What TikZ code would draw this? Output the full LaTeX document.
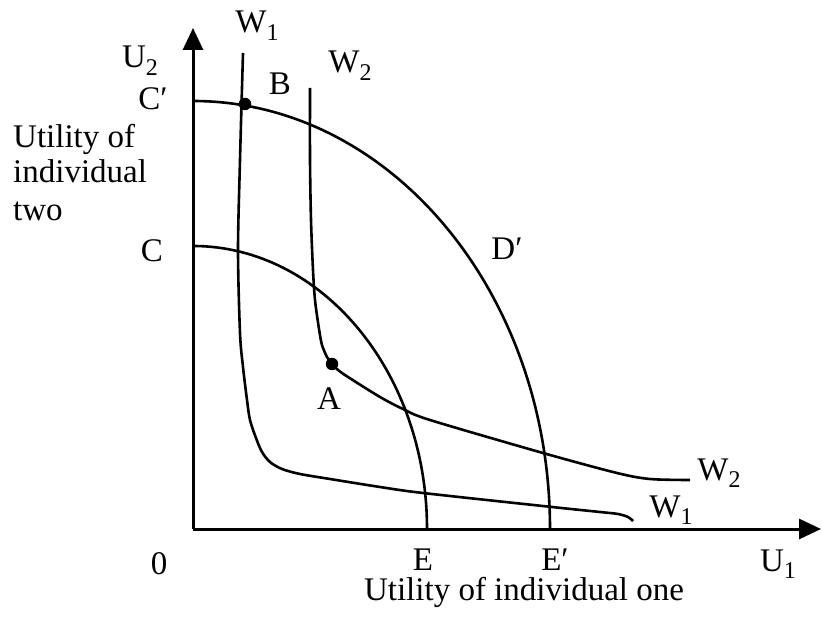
\documentclass[tikz,border=0pt]{standalone}
\usepackage{fontspec}
\setmainfont{Liberation Serif}
\usetikzlibrary{arrows.meta}
\newcommand{\lsub}[1]{\raisebox{-0.22em}{\fontsize{24}{24}\selectfont #1}}
\tikzset{
  curve/.style={line width=2.6pt, line join=round},
  axis/.style={line width=3pt, -{Triangle[length=22pt,width=20pt]}},
  lbl/.style={font=\fontsize{33}{36}\selectfont, inner sep=0pt, anchor=base},
  lbll/.style={lbl, anchor=base west},
  dot/.style={circle, fill=black, inner sep=0pt, minimum size=12.5pt}
}
\begin{document}
\begin{tikzpicture}[x=1pt,y=1pt]
\useasboundingbox (0,0) rectangle (822,619);
% axes
\coordinate (O) at (193,90);
\coordinate (Ytip) at (193,591);
\coordinate (Xtip) at (821,90);
\draw[axis] (O) -- (Ytip);
\draw[axis] (O) -- (Xtip);
% frontiers
\coordinate (Cp) at (193,518);
\coordinate (C) at (193,373);
\draw[curve] (Cp) arc[start angle=90, end angle=0, x radius=357, y radius=428];
\draw[curve] (C) arc[start angle=90, end angle=0, x radius=234, y radius=283];
% W1
\draw[curve] plot[smooth, tension=0.5] coordinates {(243,566) (240,459) (238,369) (240,286) (243,252) (247,219) (250,199) (256,181) (262,167) (270,157) (282,150) (300,145) (330,140) (380,132) (423,126) (552,112) (600,107) (618,105) (628,102) (633,98)};
% W2
\draw[curve] plot[smooth, tension=0.5] coordinates {(310,531) (310,459) (311,399) (313,349) (315,319) (319,290) (322,274) (327,262) (332,255) (338,249) (348,242) (380,222) (403,210) (430,199) (543,166) (617,146) (650,140) (690,139)};
% points
\node[dot] (B) at (245,515) {};
\node[dot] (A) at (332,255) {};
% labels
\node[lbl] (lW1t) at (257,586) {W\lsub{1}};
\node[lbl] (lW2t) at (350,546) {W\lsub{2}};
\node[lbl] (lB) at (280,524) {B};
\node[lbl] (lU2) at (140,551) {U\lsub{2}};
\node[lbl] (lCp) at (153,509) {C′};
\node[lbl] (lC) at (152,357) {C};
\node[lbl] (lDp) at (507,359) {D′};
\node[lbl] (lA) at (329,209) {A};
\node[lbl] (lW2r) at (719,139) {W\lsub{2}};
\node[lbl] (lW1r) at (671,102) {W\lsub{1}};
\node[lbl] (l0) at (159,45) {0};
\node[lbl] (lE) at (423,49) {E};
\node[lbl] (lEp) at (555,49) {E′};
\node[lbl] (lU1) at (778,48) {U\lsub{1}};
\node[lbl] (lx) at (524,19) {Utility of individual one};
\node[lbll] (ly1) at (13,471) {Utility of};
\node[lbll] (ly2) at (13,436) {individual};
\node[lbll] (ly3) at (13,398) {two};
\end{tikzpicture}
\end{document}
